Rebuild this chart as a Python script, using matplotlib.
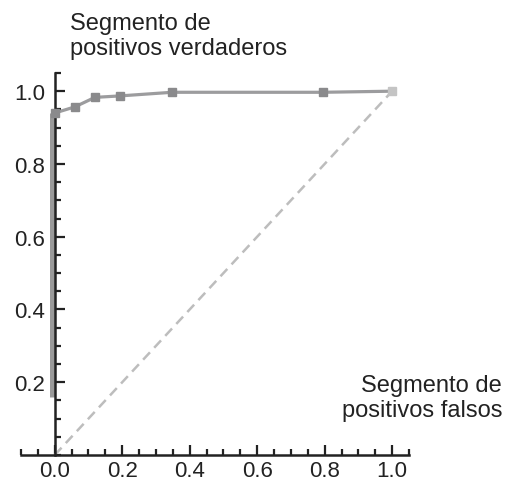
import numpy as np
import matplotlib.pyplot as plt
from matplotlib.ticker import MultipleLocator, FixedLocator

plt.rcParams["font.family"] = ["Liberation Sans", "DejaVu Sans"]

# ROC curve (false positive rate, true positive rate)
fpr = [0.0, 0.06, 0.119, 0.193, 0.348, 0.795, 1.0]
tpr = [0.94, 0.957, 0.983, 0.987, 0.997, 0.997, 1.0]
# stacked points on the y axis (fpr = 0)
axis_fpr = [-0.0075, -0.0075]
axis_tpr = [0.16, 0.94]
diag = [0.0, 1.0]

xticks = [0.0, 0.2, 0.4, 0.6, 0.8, 1.0]
yticks = [0.2, 0.4, 0.6, 0.8, 1.0]

fig = plt.figure(figsize=(5.07, 4.81), dpi=100)
ax = fig.add_axes([21/507, 1-456/481, (409-21)/507, (456-74)/481])
ax.set_xlim(-0.1, 1.05)
ax.set_ylim(0, 1.05)

ax.plot(diag, diag, color="#bdbdbd", lw=1.8, ls=(0, (4, 2.5)), zorder=2)
ax.plot(axis_fpr, axis_tpr, color="#9a9a9a", lw=3.6, solid_capstyle="butt", zorder=2)
ax.plot(fpr, tpr, color="#9c9c9e", lw=2.3, zorder=3)
ax.plot(fpr[:-1], tpr[:-1], ls="none", marker="s", ms=5.5, color="#8a8a8c", zorder=4)
ax.plot(fpr[-1:], tpr[-1:], ls="none", marker="s", ms=5.5, color="#c4c4c4", zorder=4)

for s in ["top", "right"]:
    ax.spines[s].set_visible(False)
ax.spines["left"].set_position(("data", 0))
ax.spines["bottom"].set_position(("data", 0))
for s in ["left", "bottom"]:
    ax.spines[s].set_linewidth(1.8)
    ax.spines[s].set_color("#222222")
    ax.spines[s].set_zorder(3)

ax.xaxis.set_major_locator(FixedLocator(xticks))
ax.yaxis.set_major_locator(FixedLocator(yticks))
ax.xaxis.set_minor_locator(MultipleLocator(0.05))
ax.yaxis.set_minor_locator(MultipleLocator(0.05))
ax.set_xticklabels([f"{v:.1f}" for v in xticks])
ax.set_yticklabels([f"{v:.1f}" for v in yticks])
ax.tick_params(which="both", direction="in", color="#222222", width=1.6,
               labelsize=16, labelcolor="#222222")
ax.tick_params(axis="x", which="both", pad=3.5)
ax.tick_params(axis="y", which="both", pad=7)
ax.tick_params(which="major", length=7)
ax.tick_params(which="minor", length=4.5)

fig.text(70/507, 1-13/481, "Segmento de\npositivos verdaderos", ha="left", va="top",
         fontsize=17, color="#222222", linespacing=1.15)
fig.text(502/507, 1-375/481, "Segmento de\npositivos falsos", ha="right", va="top",
         fontsize=17, color="#222222", linespacing=1.15)

fig.savefig("out.png", dpi=100)
